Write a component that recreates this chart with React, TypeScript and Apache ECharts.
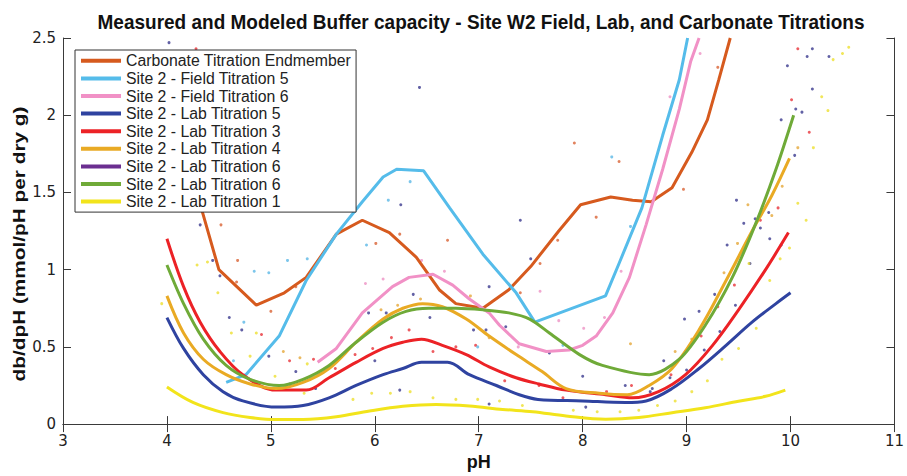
import React, { useEffect, useRef } from "react";
import * as echarts from "echarts";

const TITLE = "Measured and Modeled Buffer capacity - Site W2 Field, Lab, and Carbonate Titrations";
const X_LABEL = "pH";
const Y_LABEL = "db/dpH (mmol/pH per dry g)";

const seriesNames = [
  "Carbonate Titration Endmember",
  "Site 2 - Field Titration 5",
  "Site 2 - Field Titration 6",
  "Site 2 - Lab Titration 5",
  "Site 2 - Lab Titration 3",
  "Site 2 - Lab Titration 4",
  "Site 2 - Lab Titration 6",
  "Site 2 - Lab Titration 6 ",
  "Site 2 - Lab Titration 1",
];

const seriesColors = [
  "#D65A1E",
  "#55BCEA",
  "#F191C6",
  "#2F43A0",
  "#EC2226",
  "#E9AA24",
  "#6B2E90",
  "#6FAA38",
  "#F2E41B",
];

const carbonateValues = [
  [4.15, 2.3], [4.33, 1.4], [4.5, 1.0], [4.86, 0.77], [5.13, 0.85], [5.34, 0.95], [5.63, 1.23],
  [5.88, 1.32], [6.14, 1.24], [6.4, 1.08], [6.62, 0.87], [6.78, 0.78], [7.04, 0.75], [7.29, 0.87],
  [7.5, 1.02], [7.77, 1.25], [7.98, 1.42], [8.27, 1.47], [8.48, 1.45], [8.66, 1.44], [8.86, 1.53],
  [9.05, 1.76], [9.2, 1.97], [9.31, 2.23], [9.42, 2.5],
];

const field5Values = [
  [4.57, 0.27], [4.76, 0.32], [5.08, 0.57], [5.34, 0.93], [5.63, 1.23], [5.88, 1.44], [6.08, 1.6],
  [6.21, 1.65], [6.47, 1.64], [6.72, 1.4], [7.04, 1.1], [7.36, 0.85], [7.54, 0.66], [8.22, 0.83],
  [8.35, 1.04], [8.57, 1.4], [8.77, 1.87], [8.93, 2.23], [9.01, 2.5],
];

const field6Values = [
  [5.45, 0.4], [5.63, 0.49], [5.88, 0.72], [6.17, 0.89], [6.33, 0.95], [6.56, 0.97], [6.75, 0.9],
  [6.91, 0.81], [7.1, 0.72], [7.2, 0.64], [7.39, 0.52], [7.65, 0.47], [7.87, 0.48], [8.0, 0.51],
  [8.13, 0.57], [8.29, 0.72], [8.45, 0.95], [8.61, 1.29], [8.77, 1.65], [8.93, 2.04], [9.04, 2.35],
  [9.12, 2.5],
];

const lab5Values = [
  [4.0, 0.69], [4.16, 0.49], [4.35, 0.32], [4.54, 0.21], [4.73, 0.15], [5.05, 0.11], [5.31, 0.12],
  [5.56, 0.17], [5.82, 0.25], [6.08, 0.32], [6.27, 0.36], [6.45, 0.4], [6.7, 0.4], [6.91, 0.32],
  [7.17, 0.25], [7.39, 0.19], [7.57, 0.16], [8.0, 0.15], [8.41, 0.14], [8.61, 0.15], [8.86, 0.23],
  [9.12, 0.36], [9.38, 0.51], [9.63, 0.66], [9.86, 0.78], [10.0, 0.85],
];

const lab3Values = [
  [4.0, 1.2], [4.16, 0.89], [4.32, 0.66], [4.51, 0.47], [4.73, 0.32], [5.05, 0.22], [5.34, 0.22],
  [5.56, 0.3], [5.82, 0.4], [6.08, 0.49], [6.27, 0.53], [6.45, 0.55], [6.65, 0.51], [6.88, 0.45],
  [7.1, 0.37], [7.36, 0.3], [7.58, 0.26], [7.84, 0.22], [8.22, 0.19], [8.48, 0.17], [8.73, 0.21],
  [8.99, 0.32], [9.25, 0.51], [9.5, 0.74], [9.76, 1.0], [9.98, 1.24],
];

const lab4Values = [
  [4.0, 0.83], [4.16, 0.59], [4.35, 0.42], [4.57, 0.32], [4.8, 0.26], [5.05, 0.23], [5.31, 0.27],
  [5.56, 0.36], [5.82, 0.53], [6.08, 0.68], [6.27, 0.75], [6.46, 0.78], [6.65, 0.76], [6.88, 0.68],
  [7.1, 0.57], [7.36, 0.45], [7.61, 0.34], [7.84, 0.23], [8.16, 0.2], [8.43, 0.19], [8.64, 0.25],
  [8.86, 0.36], [9.12, 0.61], [9.38, 0.93], [9.63, 1.25], [9.82, 1.48], [9.99, 1.72],
];

const lab6PurpleValues: number[][] = [];

const lab6GreenValues = [
  [4.0, 1.03], [4.16, 0.78], [4.35, 0.55], [4.57, 0.38], [4.8, 0.29], [5.08, 0.25], [5.31, 0.29],
  [5.56, 0.38], [5.82, 0.53], [6.08, 0.66], [6.3, 0.73], [6.52, 0.75], [6.78, 0.75], [7.04, 0.74],
  [7.29, 0.72], [7.49, 0.68], [7.68, 0.59], [7.97, 0.45], [8.19, 0.38], [8.64, 0.32], [8.93, 0.42],
  [9.18, 0.64], [9.44, 0.95], [9.66, 1.29], [9.86, 1.65], [10.03, 2.0],
];

const lab1Values = [
  [4.0, 0.24], [4.25, 0.14], [4.54, 0.074], [4.8, 0.043], [5.05, 0.03], [5.31, 0.03], [5.63, 0.047],
  [5.95, 0.085], [6.27, 0.115], [6.59, 0.127], [6.91, 0.117], [7.23, 0.095], [7.52, 0.08],
  [7.84, 0.053], [8.22, 0.032], [8.54, 0.043], [8.86, 0.074], [9.18, 0.106], [9.5, 0.148],
  [9.76, 0.18], [9.95, 0.22],
];

const navyDots = [
  [4.32, 1.29], [4.44, 1.06], [4.51, 0.96], [4.6, 0.69], [4.72, 0.61], [4.98, 0.44], [5.24, 0.34],
  [5.18, 0.26], [5.43, 0.23], [6.25, 1.42], [7.4, 1.32], [7.1, 0.89], [7.5, 1.07], [6.37, 0.84],
  [5.94, 0.72], [6.11, 0.72], [6.53, 0.69], [6.95, 0.61], [7.07, 0.61], [7.26, 0.63], [6.0, 0.41],
  [6.24, 0.22], [7.1, 0.13], [7.68, 0.46], [8.0, 0.31], [8.41, 0.25], [8.65, 0.21], [8.67, 0.23],
  [8.03, 0.11], [8.84, 0.3], [9.0, 0.35], [8.78, 0.41], [9.17, 0.48], [8.98, 0.68], [9.12, 0.73],
  [9.32, 0.6], [9.27, 0.84], [9.47, 0.77], [9.39, 1.16], [9.48, 1.45], [9.55, 1.3], [10.21, 2.43],
  [10.16, 2.38], [9.97, 2.32], [10.37, 2.38], [10.21, 2.17], [10.05, 2.04], [10.11, 2.02],
  [9.91, 1.97], [10.04, 1.74], [9.79, 1.37], [9.66, 1.33], [9.71, 1.27], [9.8, 1.2], [9.91, 1.16],
  [9.61, 1.04], [6.43, 2.18], [4.02, 2.47],
];

const redDots = [
  [5.18, 0.41], [5.41, 0.42], [5.62, 0.36], [4.91, 0.58], [6.33, 0.61], [6.16, 0.56], [5.98, 0.49],
  [5.81, 0.45], [6.56, 0.47], [6.78, 0.5], [6.97, 0.51], [7.25, 0.28], [7.58, 0.25], [8.47, 0.25],
  [8.23, 0.21], [7.81, 0.17], [8.85, 0.32], [8.99, 0.47], [9.14, 0.57], [9.3, 0.76], [9.46, 0.9],
  [10.07, 2.43], [10.01, 2.1], [10.18, 1.89], [9.88, 1.4], [9.71, 1.32], [9.59, 1.19], [4.28, 2.43],
];

const carbonateDots = [
  [4.52, 1.29], [4.68, 1.06], [4.67, 0.92], [5.24, 0.89], [5.0, 0.73], [6.24, 1.23], [6.7, 1.19],
  [6.01, 1.17], [7.59, 1.04], [7.4, 0.85], [8.35, 1.7], [8.13, 1.34], [7.76, 1.19], [8.97, 1.52],
  [7.92, 1.82], [9.3, 2.31],
];

const goldDots = [
  [5.12, 0.47], [5.28, 0.43], [6.92, 0.83], [6.06, 0.74], [6.22, 0.77], [6.44, 0.81], [7.1, 0.56],
  [8.46, 0.52], [8.89, 0.47], [9.05, 0.55], [9.36, 0.98], [9.49, 1.17], [9.59, 1.42], [10.07, 1.79],
  [9.92, 1.54], [9.82, 1.35],
];

const yellowDots = [
  [4.29, 1.03], [4.39, 1.05], [4.49, 0.85], [3.95, 0.78], [4.62, 0.59], [4.86, 0.59], [4.8, 0.44],
  [5.35, 0.39], [5.04, 0.31], [5.32, 0.2], [5.97, 0.2], [6.15, 0.2], [6.34, 0.21], [6.56, 0.17],
  [6.78, 0.16], [6.99, 0.16], [7.2, 0.15], [7.42, 0.12], [5.79, 0.16], [7.91, 0.09], [8.14, 0.08],
  [8.36, 0.08], [8.54, 0.09], [8.72, 0.12], [8.89, 0.15], [9.05, 0.21], [9.2, 0.28], [9.34, 0.42],
  [9.5, 0.49], [9.6, 1.04], [10.41, 2.36], [10.5, 2.4], [10.56, 2.44], [10.3, 2.12], [10.36, 2.03],
  [10.22, 1.79], [10.07, 1.43], [10.15, 1.32], [9.99, 1.14], [9.9, 1.07], [9.8, 0.93], [9.67, 0.62],
];

const lightBlueDots = [
  [5.16, 1.06], [5.35, 1.07], [4.84, 0.99], [4.98, 0.98], [4.74, 0.66], [4.64, 0.41], [6.34, 1.57],
  [6.13, 1.45], [5.92, 1.16], [6.99, 0.5], [8.28, 1.73], [8.46, 1.28], [7.81, 0.51],
];

const pinkDots = [
  [6.45, 1.06], [6.67, 0.99], [5.91, 0.91], [6.08, 0.94], [7.59, 0.86], [7.38, 0.5], [8.37, 0.99],
  [8.21, 0.69], [8.01, 0.62], [7.77, 0.67], [9.13, 2.4], [8.84, 2.12],
];

const lineValues = [
  carbonateValues,
  field5Values,
  field6Values,
  lab5Values,
  lab3Values,
  lab4Values,
  lab6PurpleValues,
  lab6GreenValues,
  lab1Values,
];
const lineSmooth = [false, false, false, 0.35, 0.35, 0.35, 0.35, 0.3, 0.35];

const dotGroups = [
  { data: navyDots, color: "#3B3A8E" },
  { data: redDots, color: "#E8333A" },
  { data: carbonateDots, color: "#DA6334" },
  { data: goldDots, color: "#E5A83A" },
  { data: yellowDots, color: "#EEE030" },
  { data: lightBlueDots, color: "#5BB8E6" },
  { data: pinkDots, color: "#EE92C4" },
];

const TICK_FONT = '"DejaVu Sans", sans-serif';
const TEXT_FONT = '"Liberation Sans", Arial, sans-serif';

export default function App() {
  const ref = useRef<HTMLDivElement>(null);

  useEffect(() => {
    if (!ref.current) return;
    const chart = echarts.init(ref.current, null, { renderer: "svg" });

    const axisLine = { show: true, lineStyle: { color: "#3a3a3a", width: 1 } };
    const axisTick = { show: true, inside: true, length: 8, lineStyle: { color: "#3a3a3a", width: 1 } };

    const dotSeries = dotGroups.map((g) => ({
      type: "scatter",
      data: g.data,
      symbol: "circle",
      symbolSize: 3,
      itemStyle: { color: g.color },
      silent: true,
      z: 1,
    }));

    const lineSeries = seriesNames.map((name, i) => ({
      type: "line",
      name,
      data: lineValues[i],
      showSymbol: false,
      symbol: "none",
      smooth: lineSmooth[i],
      lineStyle: { color: seriesColors[i], width: 3 },
      itemStyle: { color: seriesColors[i] },
      clip: true,
      z: 2 + i * 0.01,
    }));

    chart.setOption({
      animation: false,
      backgroundColor: "#ffffff",
      grid: { left: 63, right: 11, top: 38, bottom: 46, containLabel: false },
      xAxis: [
        {
          type: "value",
          min: 3,
          max: 11,
          interval: 1,
          position: "bottom",
          axisLine,
          axisTick,
          splitLine: { show: false },
          axisLabel: { fontFamily: TICK_FONT, fontSize: 15, color: "#222", margin: 9 },
          name: X_LABEL,
          nameLocation: "middle",
          nameGap: 27,
          nameTextStyle: { fontFamily: TEXT_FONT, fontSize: 18, fontWeight: "bold", color: "#111" },
        },
        {
          type: "value",
          min: 3,
          max: 11,
          interval: 1,
          position: "top",
          axisLine,
          axisTick,
          splitLine: { show: false },
          axisLabel: { show: false },
        },
      ],
      yAxis: [
        {
          type: "value",
          min: 0,
          max: 2.5,
          interval: 0.5,
          position: "left",
          axisLine,
          axisTick,
          splitLine: { show: false },
          axisLabel: { fontFamily: TICK_FONT, fontSize: 15, color: "#222", margin: 7 },
        },
        {
          type: "value",
          min: 0,
          max: 2.5,
          interval: 0.5,
          position: "right",
          axisLine,
          axisTick,
          splitLine: { show: false },
          axisLabel: { show: false },
        },
      ],
      legend: {
        data: seriesNames,
        orient: "vertical",
        left: 75,
        top: 50,
        itemWidth: 40,
        itemHeight: 4,
        itemGap: 1.6,
        icon: "rect",
        backgroundColor: "#ffffff",
        borderColor: "#333",
        borderWidth: 1,
        borderRadius: 0,
        padding: [2.8, 5, 2.5, 6],
        textStyle: { fontFamily: TEXT_FONT, fontSize: 15.8, color: "#222", lineHeight: 14 },
        selectedMode: false,
        z: 10,
      },
      graphic: [
        {
          type: "text",
          x: 481,
          y: 22,
          scaleX: 0.95,
          z: 20,
          style: {
            text: TITLE,
            font: `bold 20px ${TEXT_FONT}`,
            fill: "#111",
            align: "center",
            verticalAlign: "middle",
          },
        },
        {
          type: "text",
          x: 19,
          y: 244,
          rotation: Math.PI / 2,
          scaleX: 1.3,
          z: 20,
          style: {
            text: Y_LABEL,
            font: `bold 16px ${TEXT_FONT}`,
            fill: "#111",
            align: "center",
            verticalAlign: "middle",
          },
        },
      ],
      series: [...dotSeries, ...lineSeries],
    });

    return () => chart.dispose();
  }, []);

  return (
    <div
      ref={ref}
      style={{ position: "absolute", left: 0, top: 0, width: 907, height: 476, background: "#fff" }}
    />
  );
}
